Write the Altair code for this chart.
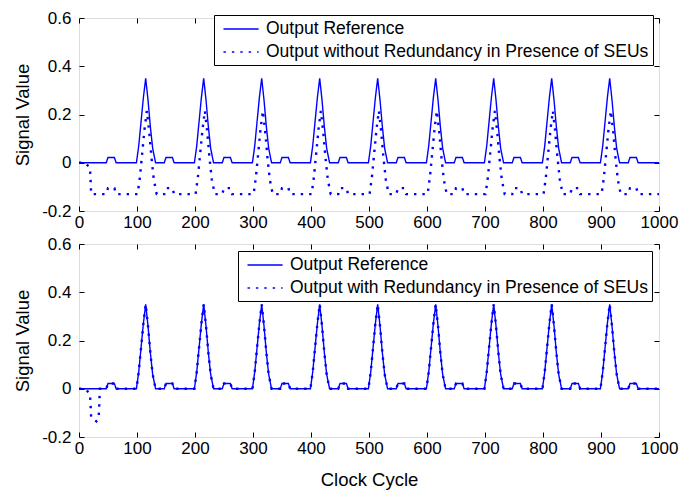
import altair as alt
import pandas as pd

# ---------------- data ----------------
ref_x = [0, 47, 50, 61, 64, 99, 103, 107, 111, 115, 119, 123, 127, 132,
         147, 150, 161, 164, 199, 203, 207, 211, 215, 219, 223, 227, 232,
         247, 250, 261, 264, 299, 303, 307, 311, 315, 319, 323, 327, 332,
         347, 350, 361, 364, 399, 403, 407, 411, 415, 419, 423, 427, 432,
         447, 450, 461, 464, 499, 503, 507, 511, 515, 519, 523, 527, 532,
         547, 550, 561, 564, 599, 603, 607, 611, 615, 619, 623, 627, 632,
         647, 650, 661, 664, 699, 703, 707, 711, 715, 719, 723, 727, 732,
         747, 750, 761, 764, 799, 803, 807, 811, 815, 819, 823, 827, 832,
         847, 850, 861, 864, 899, 903, 907, 911, 915, 919, 923, 927, 932,
         947, 950, 961, 964, 1000]
ref_y = [0, 0, 0.022, 0.022, 0, 0, 0.07, 0.17, 0.27, 0.35, 0.26, 0.15, 0.06, 0,
         0, 0.022, 0.022, 0, 0, 0.07, 0.17, 0.27, 0.35, 0.26, 0.15, 0.06, 0,
         0, 0.022, 0.022, 0, 0, 0.07, 0.17, 0.27, 0.35, 0.26, 0.15, 0.06, 0,
         0, 0.022, 0.022, 0, 0, 0.07, 0.17, 0.27, 0.35, 0.26, 0.15, 0.06, 0,
         0, 0.022, 0.022, 0, 0, 0.07, 0.17, 0.27, 0.35, 0.26, 0.15, 0.06, 0,
         0, 0.022, 0.022, 0, 0, 0.07, 0.17, 0.27, 0.35, 0.26, 0.15, 0.06, 0,
         0, 0.022, 0.022, 0, 0, 0.07, 0.17, 0.27, 0.35, 0.26, 0.15, 0.06, 0,
         0, 0.022, 0.022, 0, 0, 0.07, 0.17, 0.27, 0.35, 0.26, 0.15, 0.06, 0,
         0, 0.022, 0.022, 0, 0, 0.07, 0.17, 0.27, 0.35, 0.26, 0.15, 0.06, 0,
         0, 0.022, 0.022, 0, 0]

without_x = [0, 10, 19, 21, 47, 50, 61, 64, 101, 105, 109, 113, 117, 121, 125, 129, 134,
             147, 150, 161, 164, 201, 205, 209, 213, 217, 221, 225, 229, 234,
             247, 250, 261, 264, 301, 305, 309, 313, 317, 321, 325, 329, 334,
             347, 350, 361, 364, 401, 405, 409, 413, 417, 421, 425, 429, 434,
             447, 450, 461, 464, 501, 505, 509, 513, 517, 521, 525, 529, 534,
             547, 550, 561, 564, 601, 605, 609, 613, 617, 621, 625, 629, 634,
             647, 650, 661, 664, 701, 705, 709, 713, 717, 721, 725, 729, 734,
             747, 750, 761, 764, 801, 805, 809, 813, 817, 821, 825, 829, 834,
             847, 850, 861, 864, 901, 905, 909, 913, 917, 921, 925, 929, 934,
             947, 950, 961, 964, 1000]
without_y = [0, 0, -0.02, -0.13, -0.13, -0.105, -0.105, -0.13,
             -0.13, -0.06, 0.04, 0.14, 0.215, 0.13, 0.02, -0.07, -0.13,
             -0.13, -0.105, -0.105, -0.13, -0.13, -0.06, 0.04, 0.14, 0.215, 0.13, 0.02, -0.07, -0.13,
             -0.13, -0.105, -0.105, -0.13, -0.13, -0.06, 0.04, 0.14, 0.215, 0.13, 0.02, -0.07, -0.13,
             -0.13, -0.105, -0.105, -0.13, -0.13, -0.06, 0.04, 0.14, 0.215, 0.13, 0.02, -0.07, -0.13,
             -0.13, -0.105, -0.105, -0.13, -0.13, -0.06, 0.04, 0.14, 0.215, 0.13, 0.02, -0.07, -0.13,
             -0.13, -0.105, -0.105, -0.13, -0.13, -0.06, 0.04, 0.14, 0.215, 0.13, 0.02, -0.07, -0.13,
             -0.13, -0.105, -0.105, -0.13, -0.13, -0.06, 0.04, 0.14, 0.215, 0.13, 0.02, -0.07, -0.13,
             -0.13, -0.105, -0.105, -0.13, -0.13, -0.06, 0.04, 0.14, 0.215, 0.13, 0.02, -0.07, -0.13,
             -0.13, -0.105, -0.105, -0.13, -0.13, -0.06, 0.04, 0.14, 0.215, 0.13, 0.02, -0.07, -0.13,
             -0.13, -0.105, -0.105, -0.13, -0.13]

with_x = [0, 10, 19, 21, 30, 34, 36] + ref_x[1:]
with_y = [0, 0, -0.02, -0.12, -0.135, -0.12, 0] + ref_y[1:]

ref_label = "Output Reference"
without_label = "Output without Redundancy in Presence of SEUs"
with_label = "Output with Redundancy in Presence of SEUs"

x_ticks = [0, 100, 200, 300, 400, 500, 600, 700, 800, 900, 1000]
y_ticks = [-0.2, 0, 0.2, 0.4, 0.6]

BLUE = "#0000ff"
FONT = "Liberation Sans"
TICK_FS = 17
TITLE_FS = 18.5
LEG_FS = 17.5
W, H = 580, 193

ylabel_expr = ("abs(datum.value) < 1e-9 ? '0' : "
               "(datum.value < 0 ? '-' : '') + format(abs(datum.value), '.1f')")


def panel(dot_x, dot_y, dot_label, leg_x, leg_y, xtitle):
    df = pd.concat([
        pd.DataFrame({"x": ref_x, "y": ref_y, "series": ref_label}),
        pd.DataFrame({"x": dot_x, "y": dot_y, "series": dot_label}),
    ], ignore_index=True)
    dash_scale = alt.Scale(domain=[ref_label, dot_label], range=[[1, 0], [2.4, 6]])
    legend = alt.Legend(orient="none", legendX=leg_x, legendY=leg_y, title=None,
                        fillColor="white", strokeColor="black", padding=4,
                        labelFont=FONT, labelFontSize=LEG_FS, labelColor="black",
                        labelLimit=600, labelOffset=28, rowPadding=4,
                        symbolType="M-0.5,0L3.4,0", symbolSize=324,
                        symbolFillColor="transparent",
                        symbolStrokeColor=BLUE, symbolStrokeWidth=1.6)
    xs = alt.Scale(domain=[0, 1000], nice=False, zero=False)
    ys = alt.Scale(domain=[-0.2, 0.6], nice=False, zero=False)
    base = alt.Chart(df)
    l1 = base.transform_filter(alt.datum.series == ref_label).mark_line(
        color=BLUE, strokeWidth=1.4).encode(
        x=alt.X("x:Q", scale=xs, axis=alt.Axis(
            orient="bottom", values=x_ticks, format="d", domain=False, grid=False,
            tickSize=5, offset=-5, labelPadding=3, tickColor="black", labelFlush=False,
            labelFont=FONT, labelFontSize=TICK_FS, labelColor="black",
            title=xtitle, titleFont=FONT, titleFontSize=TITLE_FS, titleFontWeight="normal",
            titleColor="black", titlePadding=14)),
        y=alt.Y("y:Q", scale=ys, axis=alt.Axis(
            orient="left", values=y_ticks, labelExpr=ylabel_expr, domain=False, grid=False,
            tickSize=5, offset=-5, labelPadding=8, tickColor="black", labelFlush=False,
            labelFont=FONT, labelFontSize=TICK_FS, labelColor="black",
            title="Signal Value", titleFont=FONT, titleFontSize=TITLE_FS,
            titleFontWeight="normal", titleColor="black", titlePadding=9)),
        strokeDash=alt.StrokeDash("series:N", scale=dash_scale, legend=legend),
    )
    l2 = base.transform_filter(alt.datum.series == dot_label).mark_line(
        color=BLUE, strokeWidth=2.4).encode(
        x=alt.X("x:Q", scale=xs, axis=alt.Axis(
            orient="top", values=x_ticks, labels=False, domain=False, grid=False,
            tickSize=5, offset=-5, tickColor="black", title=None)),
        y=alt.Y("y:Q", scale=ys, axis=alt.Axis(
            orient="right", values=y_ticks, labels=False, domain=False, grid=False,
            tickSize=5, offset=-5, tickColor="black", title=None)),
        strokeDash=alt.StrokeDash("series:N", scale=dash_scale, legend=legend),
    )
    return alt.layer(l1, l2).resolve_axis(x="independent", y="independent").properties(
        width=W, height=H)


top = panel(without_x, without_y, without_label, 135, -3, None)
bottom = panel(with_x, with_y, with_label, 159, 7, "Clock Cycle")

chart = alt.vconcat(top, bottom, spacing=33, bounds="flush").resolve_scale(
    strokeDash="independent").resolve_legend(strokeDash="independent").properties(
    padding={"left": 5, "top": 0, "right": 5, "bottom": 5}
).configure_view(stroke="black", strokeWidth=1).configure(background="white")

chart.save("out.html", embed_options={"renderer": "svg", "actions": False})
